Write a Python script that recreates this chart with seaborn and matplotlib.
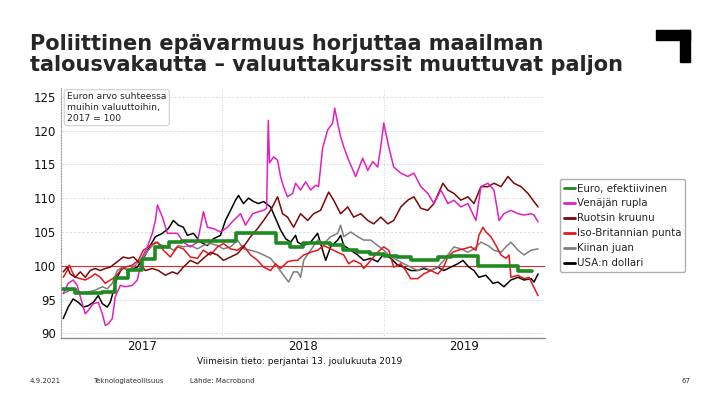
import numpy as np
import pandas as pd
import seaborn as sns
import matplotlib.pyplot as plt
from matplotlib.lines import Line2D
from matplotlib.patches import Rectangle

# aika = kuukausia tammikuun 2017 alusta, arvot: euron arvo, 2017 = 100
euro_m = list(range(36))
euro_v = [96.6, 96.0, 96.0, 96.1, 98.2, 99.4, 101.0, 102.8, 103.5, 103.6, 103.6, 103.6,
          103.6, 104.8, 104.8, 104.8, 103.3, 102.8, 103.4, 103.4, 103.1, 102.4, 102.1, 101.8,
          101.5, 101.3, 100.9, 100.9, 101.3, 101.4, 101.4, 99.9, 99.9, 99.9, 99.3, 99.3]

rupla_m = [0.15, 0.52, 0.89, 1.19, 1.57, 1.79, 2.01, 2.39, 2.76, 3.06, 3.28, 3.5, 3.8, 4.02, 4.4,
           4.77, 5.29, 5.66, 6.04, 6.41, 6.78, 7.01, 7.16, 7.53, 7.9, 8.27, 8.65, 9.09, 9.61, 10.14,
           10.58, 10.88, 11.33, 11.85, 12.37, 12.82, 13.34, 13.71, 14.24, 14.68, 15.06, 15.28, 15.41,
           15.5, 15.8, 16.1, 16.32, 16.54, 16.84, 17.22, 17.44, 17.81, 18.19, 18.56, 18.93, 19.15,
           19.45, 19.83, 20.2, 20.35, 20.57, 20.79, 21.02, 21.39, 21.91, 22.43, 22.81, 23.18, 23.55,
           23.78, 24.0, 24.37, 24.74, 25.27, 25.79, 26.24, 26.76, 27.28, 27.73, 28.25, 28.77, 29.22,
           29.74, 30.26, 30.86, 31.23, 31.75, 32.2, 32.58, 32.94, 33.46, 33.99, 34.44, 34.96, 35.18,
           35.48]
rupla_v = [95.9, 97.4, 97.9, 97.1, 94.4, 92.9, 93.4, 94.4, 94.6, 92.9, 91.2, 91.4, 92.2, 95.4, 97.1,
           96.9, 97.1, 97.9, 101.3, 102.8, 104.8, 106.7, 109.0, 107.2, 104.8, 104.8, 104.8, 103.5,
           102.8, 103.5, 108.0, 105.7, 105.5, 105.0, 105.7, 106.7, 107.7, 106.0, 107.7, 108.0, 108.2,
           108.5, 121.5, 115.2, 116.1, 115.6, 113.2, 111.7, 110.2, 110.7, 112.2, 111.2, 112.4, 111.2,
           111.9, 111.7, 117.4, 120.1, 121.1, 123.3, 121.1, 119.1, 117.6, 115.6, 113.2, 115.9, 114.1,
           115.4, 114.6, 117.6, 121.1, 117.6, 114.6, 113.7, 113.2, 113.7, 111.7, 110.7, 109.2, 111.2,
           109.2, 109.7, 108.7, 109.2, 106.7, 111.7, 112.2, 111.2, 106.7, 107.7, 108.2, 107.7, 107.5,
           107.7, 107.5, 106.5]

kruunu_m = [0.15, 0.45, 0.67, 1.04, 1.42, 1.79, 2.16, 2.53, 2.91, 3.28, 3.65, 4.17, 4.62, 4.99, 5.37,
            5.74, 6.26, 6.78, 7.23, 7.75, 8.27, 8.65, 9.09, 9.61, 10.14, 10.58, 11.11, 11.63, 12.07,
            12.6, 13.12, 13.56, 14.09, 14.61, 15.06, 15.58, 16.1, 16.47, 16.84, 17.29, 17.81, 18.34,
            18.78, 19.3, 19.9, 20.27, 20.79, 21.32, 21.76, 22.29, 22.81, 23.25, 23.78, 24.3, 24.74,
            25.27, 25.79, 26.24, 26.76, 27.28, 27.73, 28.4, 28.77, 29.22, 29.74, 30.26, 30.71, 31.23,
            31.75, 32.2, 32.72, 33.24, 33.69, 34.21, 34.73, 35.1, 35.48]
kruunu_v = [99.1, 99.8, 98.8, 98.3, 99.1, 98.3, 99.3, 99.6, 99.3, 99.6, 99.8, 100.6, 101.3, 101.1,
            101.3, 100.6, 99.3, 99.6, 99.3, 98.6, 99.1, 98.8, 99.8, 100.8, 100.3, 101.1, 102.0, 101.6,
            100.8, 101.3, 101.8, 102.8, 104.3, 105.5, 106.7, 108.2, 110.2, 107.7, 107.2, 105.7, 107.7,
            106.7, 107.7, 108.2, 110.9, 109.7, 107.7, 108.7, 107.2, 107.7, 106.7, 106.2, 107.2, 106.2,
            106.7, 108.7, 109.7, 110.2, 108.5, 108.2, 109.2, 112.2, 111.2, 110.7, 109.7, 110.2, 109.2,
            111.7, 111.7, 112.2, 111.7, 113.2, 112.2, 111.7, 110.7, 109.7, 108.7]

punta_m = [0.15, 0.45, 0.6, 0.82, 1.04, 1.42, 1.79, 2.16, 2.53, 2.91, 3.28, 3.65, 4.02, 4.4, 4.77,
           5.29, 5.74, 6.11, 6.63, 7.16, 7.6, 8.12, 8.65, 9.09, 9.61, 10.14, 10.58, 11.11, 11.63,
           12.07, 12.6, 13.12, 13.56, 14.09, 14.61, 15.06, 15.58, 15.95, 16.32, 16.84, 17.29, 17.59,
           18.04, 18.56, 19.08, 19.53, 20.05, 20.57, 21.02, 21.39, 21.76, 22.29, 22.51, 23.03, 23.55,
           24.0, 24.37, 24.74, 25.27, 25.64, 26.01, 26.53, 26.98, 27.5, 28.02, 28.4, 28.77, 29.14,
           29.51, 29.96, 30.48, 30.86, 31.08, 31.38, 31.6, 31.97, 32.35, 32.72, 33.09, 33.32, 33.46,
           33.99, 34.44, 34.81, 35.1, 35.48]
punta_v = [98.3, 99.3, 100.1, 99.1, 98.3, 98.1, 97.9, 98.3, 98.8, 98.3, 97.4, 97.9, 98.3, 99.3, 99.8,
           100.1, 100.8, 102.3, 103.0, 103.5, 102.3, 101.3, 102.8, 102.5, 101.3, 101.1, 102.3, 101.6,
           102.8, 103.3, 102.5, 102.3, 103.0, 101.6, 100.8, 99.8, 99.3, 100.3, 99.6, 100.6, 100.8,
           100.8, 101.6, 102.0, 102.3, 103.0, 102.5, 102.0, 101.6, 100.3, 100.8, 100.3, 99.6, 100.8,
           102.0, 102.8, 102.3, 99.8, 100.3, 99.3, 98.1, 98.1, 98.8, 99.3, 98.8, 99.6, 101.3, 102.0,
           102.3, 102.5, 102.8, 102.3, 104.5, 105.7, 105.0, 104.3, 103.0, 101.6, 101.1, 101.6, 98.3,
           98.6, 98.1, 98.3, 97.1, 95.6]

juan_m = [0.15, 0.67, 1.04, 1.57, 2.01, 2.53, 3.06, 3.43, 3.8, 4.17, 4.55, 4.99, 5.52, 6.04, 6.48,
          7.01, 7.53, 7.97, 8.35, 8.72, 9.09, 9.61, 10.14, 10.58, 11.11, 11.63, 12.07, 12.6, 13.12,
          13.56, 14.09, 14.61, 15.06, 15.58, 16.1, 16.54, 16.92, 17.29, 17.59, 17.81, 18.04, 18.56,
          19.08, 19.53, 20.05, 20.57, 20.79, 21.02, 21.54, 22.06, 22.51, 23.03, 23.55, 24.0, 24.52,
          25.04, 25.49, 26.01, 26.53, 26.98, 27.5, 28.02, 28.47, 28.84, 29.22, 29.74, 30.26, 30.71,
          31.23, 31.75, 32.2, 32.72, 33.09, 33.46, 33.99, 34.44, 34.96, 35.48]
juan_v = [95.9, 96.4, 96.6, 95.9, 96.1, 96.4, 96.9, 96.6, 97.4, 99.3, 99.8, 99.3, 100.1, 101.1, 102.3,
          103.5, 103.0, 102.8, 102.3, 103.0, 102.8, 103.0, 102.5, 103.0, 103.3, 103.0, 102.5, 102.8,
          103.8, 102.5, 102.3, 102.0, 101.6, 101.1, 99.8, 98.6, 97.6, 99.1, 99.1, 98.3, 100.8, 102.3,
          103.8, 103.3, 104.3, 104.8, 106.0, 104.3, 105.0, 104.3, 103.8, 103.8, 103.0, 102.3, 101.3,
          100.8, 100.3, 99.8, 99.3, 99.8, 99.3, 99.8, 100.8, 101.8, 102.8, 102.5, 102.0, 102.5, 103.5,
          103.0, 102.3, 102.0, 102.8, 103.5, 102.3, 101.6, 102.3, 102.5]

dollari_m = [0.15, 0.52, 0.89, 1.27, 1.64, 2.01, 2.39, 2.76, 3.06, 3.43, 3.65, 4.17, 4.55, 4.99, 5.66,
             6.11, 6.63, 7.01, 7.53, 7.97, 8.35, 8.72, 9.09, 9.39, 9.84, 10.36, 10.88, 11.33, 11.85,
             12.22, 12.6, 12.97, 13.19, 13.56, 13.94, 14.31, 14.68, 15.06, 15.58, 15.95, 16.32, 16.7,
             17.07, 17.44, 17.59, 18.04, 18.56, 19.08, 19.45, 19.68, 20.05, 20.57, 20.79, 21.02, 21.54,
             22.06, 22.51, 23.03, 23.55, 24.0, 24.52, 25.04, 25.49, 26.01, 26.53, 26.98, 27.5, 28.02,
             28.47, 28.99, 29.51, 29.89, 30.34, 30.71, 31.08, 31.6, 32.13, 32.5, 32.94, 33.46, 33.99,
             34.44, 34.96, 35.18, 35.48]
dollari_v = [92.2, 93.9, 95.1, 94.6, 93.9, 94.1, 94.6, 95.6, 94.4, 93.9, 94.6, 98.3, 99.8, 99.3, 99.8,
             101.1, 103.0, 104.3, 104.8, 105.5, 106.7, 106.0, 105.7, 104.5, 104.8, 103.5, 103.0, 104.0,
             104.5, 106.7, 108.2, 109.7, 110.4, 109.2, 110.0, 109.5, 109.2, 109.5, 108.7, 107.0, 105.3,
             104.0, 103.5, 104.5, 103.5, 103.0, 103.5, 104.8, 102.3, 100.8, 102.8, 103.8, 104.5, 103.0,
             102.3, 101.6, 100.8, 101.1, 100.6, 101.8, 101.1, 100.1, 99.8, 99.3, 99.3, 99.6, 99.3, 99.8,
             99.3, 99.8, 100.3, 100.8, 99.8, 99.3, 98.3, 98.6, 97.4, 97.6, 96.9, 97.9, 98.3, 97.9, 98.1,
             97.6, 98.8]

vuodet = ["2017", "2018", "2019"]

sns.set_style("white")
plt.rcParams['font.family'] = ['DejaVu Sans']

fig = plt.figure(figsize=(7.2, 4.05), dpi=100)
ax = fig.add_axes([0.085, 0.165, 0.672, 0.618])

ax.axhline(100, color="#e8282d", lw=0.8, zorder=1)

sarjat = [
    ("USA:n dollari", dollari_m, dollari_v, "black"),
    ("Kiinan juan", juan_m, juan_v, "#7f7f7f"),
    ("Iso-Britannian punta", punta_m, punta_v, "#e5161c"),
    ("Ruotsin kruunu", kruunu_m, kruunu_v, "#7a0808"),
    ("Venäjän rupla", rupla_m, rupla_v, "#e020c0"),
]
for nimi, m, v, c in sarjat:
    df = pd.DataFrame({"t": 2017 + np.array(m) / 12, "v": v})
    sns.lineplot(data=df, x="t", y="v", color=c, lw=1.1, ax=ax,
                 estimator=None, sort=False, legend=False)

euro = pd.DataFrame({"t": 2017 + np.array(euro_m) / 12, "v": euro_v})
sns.lineplot(data=euro, x="t", y="v", color="#1f8a1f", lw=2.6, ax=ax,
             drawstyle="steps-post", estimator=None, legend=False)

ax.set_xlim(2017, 2020)
ax.set_ylim(89.3, 126.3)
ax.set_yticks(range(90, 126, 5))
ax.set_xticks([2017.5, 2018.5, 2019.5])
ax.set_xticklabels(vuodet)
ax.set_xticks([2018, 2019, 2020], minor=True)
ax.set_xlabel("")
ax.set_ylabel("")
ax.tick_params(axis="both", which="both", length=0, labelsize=8.5, colors="#111111")
ax.tick_params(axis="x", pad=1.5)
ax.grid(axis="y", which="major", color="#d9d9d9", lw=0.6, ls=(0, (3, 2)))
ax.grid(axis="x", which="minor", color="#c8c8c8", lw=0.6, ls=(0, (1, 2)))
for s in ["top", "right"]:
    ax.spines[s].set_visible(False)
ax.spines["left"].set_color("#9a9a9a")
ax.spines["left"].set_linestyle((0, (1, 1.5)))
ax.spines["left"].set_linewidth(0.8)
ax.spines["bottom"].set_color("#8a8a8a")
ax.spines["bottom"].set_linewidth(1.0)

ax.text(0.012, 0.982, "Euron arvo suhteessa\nmuihin valuuttoihin,\n2017 = 100",
        transform=ax.transAxes, ha="left", va="top", fontsize=6.6, color="#222222",
        linespacing=1.25,
        bbox=dict(boxstyle="round,pad=0.3", fc="white", ec="#cfcfcf", lw=0.8))

# legenda
nimet = ["Euro, efektiivinen", "Venäjän rupla", "Ruotsin kruunu",
         "Iso-Britannian punta", "Kiinan juan", "USA:n dollari"]
varit = ["#1f8a1f", "#e020c0", "#7a0808", "#e5161c", "#7f7f7f", "black"]
kahvat = [Line2D([0], [0], color=c, lw=2) for c in varit]
fig.legend(kahvat, nimet, loc="upper left", bbox_to_anchor=(0.778, 0.557),
           fontsize=7.4, frameon=True, edgecolor="#9a9a9a", fancybox=True,
           handlelength=1.0, handletextpad=0.2, labelspacing=0.48, borderpad=0.4,
           borderaxespad=0)

fig.text(300 / 720, 1 - 361 / 405, "Viimeisin tieto: perjantai 13. joulukuuta 2019",
         ha="center", va="center", fontsize=6.5, color="#111111")

fig.text(30 / 720, 1 - 34 / 405,
         "Poliittinen epävarmuus horjuttaa maailman\ntalousvakautta – valuuttakurssit muuttuvat paljon",
         ha="left", va="top", fontsize=15, fontweight="bold", linespacing=1.08)

# logo oikeassa yläkulmassa
fig.add_artist(Rectangle((656 / 720, 1 - 40 / 405), 34 / 720, 10 / 405,
                         transform=fig.transFigure, color="black"))
fig.add_artist(Rectangle((680 / 720, 1 - 62 / 405), 10 / 720, 32 / 405,
                         transform=fig.transFigure, color="black"))

for x, teksti in [(30, "4.9.2021"), (93, "Teknologiateollisuus"), (190, "Lähde: Macrobond")]:
    fig.text(x / 720, 1 - 381 / 405, teksti, ha="left", va="center", fontsize=5, color="#333333")
fig.text(690 / 720, 1 - 381 / 405, "67", ha="right", va="center", fontsize=5, color="#333333")

plt.savefig("out.png", dpi=100)
